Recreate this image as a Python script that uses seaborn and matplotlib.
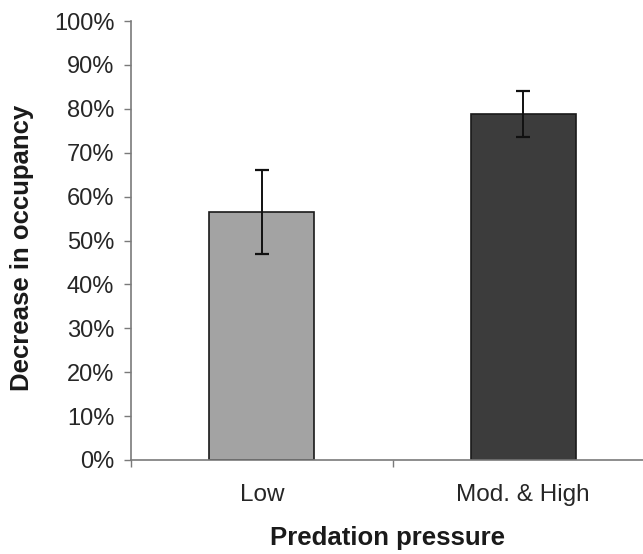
#!/usr/bin/env python3
"""
Bar chart: decrease in occupancy by predation pressure
"""

import matplotlib
matplotlib.use("Agg")
import matplotlib.pyplot as plt
import seaborn as sns
import pandas as pd
from matplotlib.ticker import PercentFormatter, FixedLocator

# data
categories = ["Low", "Mod. & High"]
decrease = [0.565, 0.788]
error = [0.095, 0.053]
bar_colors = ["#a3a3a3", "#3c3c3c"]

sns.set_style("white")
plt.rcParams['font.family'] = ['Liberation Sans', 'DejaVu Sans']

df = pd.DataFrame({"pressure": categories, "decrease": decrease})

fig = plt.figure(figsize=(6.43, 5.54), dpi=100)
ax = fig.add_axes([131 / 643, 94 / 554, 523 / 643, 439 / 554])

sns.barplot(data=df, x="pressure", y="decrease", hue="pressure",
            palette=bar_colors, width=0.4, edgecolor="#1a1a1a",
            linewidth=1.2, legend=False, ax=ax)

ax.errorbar(range(len(categories)), decrease, yerr=error, fmt="none",
            ecolor="#111111", elinewidth=1.4, capsize=5, capthick=1.6)

ax.set_xlim(-0.5, 1.5)
ax.set_ylim(0, 1.0)
ax.yaxis.set_major_locator(FixedLocator([i / 10 for i in range(11)]))
ax.yaxis.set_major_formatter(PercentFormatter(1.0, decimals=0))

# category boundary ticks, like the spreadsheet style
ax.xaxis.set_minor_locator(FixedLocator([-0.5, 0.5, 1.5]))
ax.tick_params(axis="x", which="major", length=0, pad=17,
               labelsize=17.5, labelcolor="#262626")
ax.tick_params(axis="x", which="minor", direction="out", length=5,
               width=1, color="#7a7a7a", bottom=True)
ax.tick_params(axis="y", which="major", direction="out", length=5,
               width=1, color="#7a7a7a", left=True, pad=7,
               labelsize=17, labelcolor="#262626")

sns.despine(ax=ax)
for side in ["left", "bottom"]:
    ax.spines[side].set_color("#7a7a7a")
    ax.spines[side].set_linewidth(1.2)

ax.set_xlabel("")
ax.set_ylabel("")
fig.text(22 / 643, 306 / 554, "Decrease in occupancy", rotation=90,
         ha="center", va="center", fontsize=18.5, fontweight="bold",
         color="#1a1a1a")
fig.text(388 / 643, 9 / 554, "Predation pressure", ha="center",
         va="baseline", fontsize=18.5, fontweight="bold", color="#1a1a1a")

fig.savefig("out.png", dpi=100, facecolor="white")
plt.close(fig)
